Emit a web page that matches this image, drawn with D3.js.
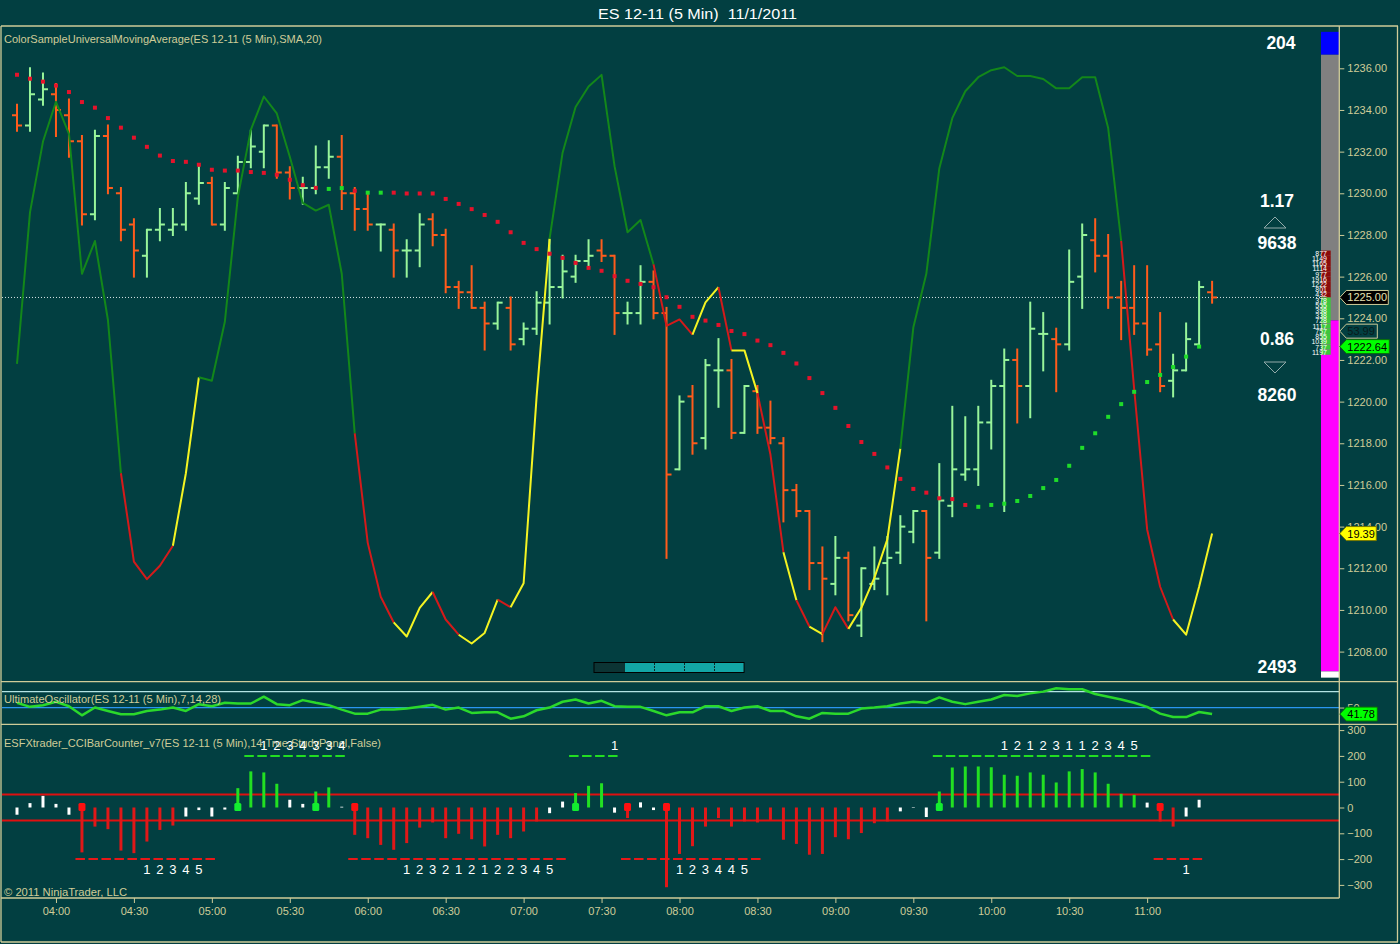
<!DOCTYPE html>
<html>
<head>
<meta charset="utf-8">
<script src="https://cdnjs.cloudflare.com/ajax/libs/d3/7.8.5/d3.min.js"></script>
<style>
  html, body { margin: 0; padding: 0; background: #023f41; }
  svg { display: block; font-family: "Liberation Sans", Arial, sans-serif; }
</style>
</head>
<body>
<div id="chart"></div>
<script>
var svgWidth = 1400;
var svgHeight = 944;

// 5 minute bars, 03:45 .. 11:25
var startTime = new Date(2011, 10, 1, 3, 45);
var endTime = new Date(2011, 10, 1, 11, 25);
var barTimes = d3.timeMinute.every(5).range(startTime, d3.timeMinute.offset(endTime, 1));
var timeTicks = d3.timeMinute.every(30).range(new Date(2011, 10, 1, 4, 0), new Date(2011, 10, 1, 11, 1));

var barOpen = [
  1233.75, 1233.25, 1234.5, 1234.75, 1233.75, 1232.5, 1229.0, 1232.75, 1230.0, 1228.5,
  1227.0, 1228.25, 1228.25, 1228.5, 1229.75, 1230.5, 1228.5, 1230.0, 1231.5, 1232.0,
  1233.25, 1231.0, 1230.25, 1230.25, 1231.25, 1231.75, 1230.0, 1229.25, 1228.5, 1228.25,
  1227.25, 1227.25, 1228.75, 1228.0, 1225.5, 1225.25, 1224.5, 1223.75, 1224.5, 1223.0,
  1223.5, 1224.75, 1225.5, 1226.0, 1226.75, 1227.25, 1227.0, 1224.25, 1224.25, 1225.75,
  1224.25, 1216.75, 1220.25, 1218.25, 1221.5, 1221.5, 1218.5, 1220.5, 1218.75, 1218.0,
  1215.75, 1214.75, 1212.25, 1211.25, 1212.5, 1209.25, 1211.25, 1212.25, 1212.75, 1213.75,
  1214.75, 1212.75, 1215.0, 1216.5, 1216.75, 1219.0, 1220.75, 1222.0, 1220.75, 1223.25,
  1223.0, 1222.75, 1226.0, 1227.75, 1227.0, 1225.0, 1224.5, 1223.75, 1222.75, 1221.0,
  1221.5, 1222.75, 1225.25
];
var barHigh = [
  1234.25, 1236.0, 1235.75, 1235.25, 1234.5, 1232.75, 1233.0, 1233.25, 1230.25, 1228.75,
  1228.25, 1229.25, 1229.25, 1230.5, 1231.25, 1230.75, 1230.5, 1231.75, 1233.0, 1233.25,
  1233.25, 1231.25, 1230.75, 1232.25, 1232.5, 1232.75, 1230.25, 1230.0, 1228.5, 1228.5,
  1227.75, 1229.0, 1229.0, 1228.25, 1225.75, 1226.5, 1224.75, 1224.75, 1225.0, 1223.75,
  1225.25, 1227.75, 1227.0, 1227.0, 1227.75, 1227.75, 1227.0, 1224.75, 1226.5, 1226.25,
  1224.5, 1220.25, 1220.75, 1222.0, 1223.0, 1222.0, 1220.75, 1220.75, 1220.0, 1218.25,
  1216.0, 1214.75, 1213.0, 1213.5, 1212.75, 1212.0, 1213.0, 1213.5, 1214.5, 1214.75,
  1214.75, 1217.0, 1219.75, 1219.25, 1219.75, 1221.0, 1222.5, 1222.5, 1224.75, 1224.25,
  1223.5, 1227.25, 1228.5, 1228.75, 1228.0, 1225.75, 1226.5, 1226.5, 1224.25, 1222.25,
  1223.75, 1225.75, 1225.75
];
var barLow = [
  1233.0, 1233.0, 1234.25, 1232.75, 1231.75, 1228.5, 1228.75, 1230.0, 1227.75, 1226.0,
  1226.0, 1227.75, 1228.0, 1228.25, 1229.5, 1228.5, 1228.25, 1230.0, 1231.25, 1231.25,
  1230.75, 1229.75, 1229.5, 1230.0, 1230.75, 1229.25, 1228.25, 1228.25, 1227.25, 1226.0,
  1226.0, 1226.5, 1227.5, 1225.25, 1224.5, 1224.5, 1222.5, 1223.5, 1222.5, 1222.75,
  1223.25, 1223.75, 1225.0, 1225.75, 1226.5, 1226.75, 1223.25, 1223.75, 1223.75, 1224.0,
  1212.5, 1216.75, 1217.5, 1217.75, 1219.75, 1218.25, 1218.5, 1218.5, 1218.0, 1214.25,
  1214.5, 1211.0, 1208.5, 1210.75, 1209.5, 1208.75, 1211.0, 1210.75, 1212.25, 1213.25,
  1209.5, 1212.5, 1214.5, 1216.25, 1216.0, 1217.75, 1214.75, 1219.0, 1219.25, 1221.5,
  1220.5, 1222.5, 1224.5, 1226.25, 1224.5, 1223.0, 1223.25, 1222.25, 1220.5, 1220.25,
  1221.5, 1222.75, 1224.75
];
var barClose = [
  1233.25, 1234.75, 1235.0, 1234.0, 1232.5, 1229.0, 1232.75, 1230.25, 1228.25, 1227.25,
  1228.25, 1228.5, 1228.5, 1230.0, 1230.5, 1228.5, 1230.25, 1231.5, 1232.25, 1233.25,
  1231.0, 1230.25, 1230.25, 1231.25, 1231.75, 1230.0, 1229.25, 1228.5, 1228.5, 1227.25,
  1227.25, 1228.5, 1228.0, 1225.5, 1225.25, 1224.5, 1223.75, 1224.75, 1222.75, 1223.5,
  1224.75, 1225.5, 1226.25, 1226.75, 1227.0, 1227.0, 1224.25, 1224.25, 1225.75, 1224.25,
  1216.5, 1220.0, 1218.0, 1221.75, 1221.5, 1218.5, 1220.75, 1218.75, 1218.25, 1215.75,
  1214.75, 1212.25, 1211.5, 1212.5, 1209.75, 1212.0, 1211.5, 1212.5, 1214.0, 1214.75,
  1212.5, 1215.25, 1216.75, 1216.75, 1219.0, 1220.75, 1222.0, 1220.75, 1223.5, 1223.25,
  1222.75, 1225.75, 1228.0, 1227.0, 1225.0, 1224.5, 1223.75, 1222.5, 1220.75, 1221.5,
  1223.0, 1225.5, 1225.0
];

// SMA(20) dots, r = falling (red), g = rising (green)
var smaValues = [
  1235.69, 1235.5, 1235.36, 1235.17, 1234.86, 1234.38, 1234.11, 1233.61, 1233.15, 1232.67,
  1232.23, 1231.81, 1231.55, 1231.51, 1231.37, 1231.13, 1231.09, 1231.09, 1231.02, 1230.98,
  1230.89, 1230.65, 1230.39, 1230.26, 1230.21, 1230.25, 1230.12, 1230.03, 1230.03, 1230.03,
  1229.99, 1229.99, 1229.99, 1229.73, 1229.49, 1229.24, 1228.96, 1228.63, 1228.13, 1227.62,
  1227.32, 1227.10, 1226.90, 1226.66, 1226.42, 1226.28, 1226.02, 1225.80, 1225.65, 1225.49,
  1225.01, 1224.55, 1224.07, 1223.89, 1223.68, 1223.39, 1223.24, 1222.93, 1222.71, 1222.34,
  1221.83, 1221.13, 1220.41, 1219.70, 1218.83, 1218.06, 1217.49, 1216.84, 1216.29, 1215.81,
  1215.63, 1215.36, 1215.32, 1215.04, 1214.95, 1215.04, 1215.10, 1215.23, 1215.47, 1215.85,
  1216.24, 1216.92, 1217.78, 1218.48, 1219.27, 1219.88, 1220.47, 1220.94, 1221.28, 1221.66,
  1222.16, 1222.64, null
];
var smaState = ("rrrrrrrrrrrrrrrrrrrrrrrr" + "gg" + "r" + "gg" +
  "rrrrrrrrrrrrrrrrrrrrrrrrrrrrrrrrrrrrrrrrrrrrr" + "gggggggggggggggggg" + "r").split("");

// overlay oscillator (0..100), state: g normal, r falling in zone, y rising in zone
var oscValues = [
  48.4, 74.3, 86.4, 93.2, 87.7, 63.8, 69.4, 55.9, 29.7, 14.6,
  11.6, 13.9, 17.3, 29.7, 46.1, 45.5, 55.6, 76.9, 88.4, 94.1,
  91.2, 83.8, 75.9, 74.6, 75.6, 63.8, 36.5, 17.8, 8.6, 4.2,
  1.8, 6.7, 9.4, 4.7, 2.1, 0.6, 2.4, 8.1, 6.8, 10.9,
  42.8, 69.8, 84.5, 92.3, 95.8, 97.8, 82.2, 70.9, 73.0, 65.4,
  54.9, 56.0, 53.4, 58.9, 61.5, 50.7, 50.7, 43.4, 32.9, 16.2,
  8.0, 3.5, 2.2, 6.8, 3.1, 6.7, 11.8, 18.4, 33.9, 54.6,
  63.8, 81.8, 90.4, 95.0, 97.4, 98.6, 99.1, 97.6, 97.6, 97.1,
  95.5, 95.5, 97.4, 97.4, 88.7, 69.4, 44.1, 20.1, 10.3, 4.7,
  2.1, 10.3, 19.39
];
var oscState = ("ggggggggg" + "rrrr" + "yy" + "gggggggggggg" + "rrr" + "yyy" + "rr" + "yyy" + "r" +
  "yyy" + "gggggggg" + "rrr" + "yy" + "r" + "yy" + "rr" + "y" + "r" + "y" + "rr" + "yyyy" +
  "ggggggggggggggggg" + "rrrr" + "yyy").split("");
var oscOther = 53.99;

// UltimateOscillator(7,14,28)
var uoValues = [
  56.0, 50.9, 53.0, 57.3, 51.7, 40.2, 50.0, 45.7, 41.5, 41.5,
  45.7, 47.4, 50.0, 45.7, 54.3, 51.7, 56.0, 55.1, 55.1, 63.7,
  54.3, 53.0, 59.4, 56.0, 53.0, 47.4, 42.3, 42.3, 47.4, 47.4,
  48.7, 50.9, 53.4, 47.4, 50.0, 43.2, 44.0, 44.0, 35.9, 38.9,
  46.6, 50.0, 57.3, 60.2, 55.1, 58.5, 51.7, 50.9, 50.9, 45.7,
  40.2, 44.0, 44.0, 51.7, 51.7, 45.7, 50.0, 51.7, 45.7, 45.7,
  38.9, 35.9, 43.2, 42.3, 42.3, 48.7, 50.0, 51.7, 55.1, 57.3,
  56.0, 62.8, 57.3, 54.3, 57.3, 60.2, 65.8, 64.5, 67.9, 70.1,
  74.3, 73.1, 73.1, 67.1, 63.7, 60.2, 56.0, 50.9, 42.3, 38.0,
  38.0, 44.4, 41.78
];

// CCI(14) bar counter
var cciValues = [
  -28, 17, 45, 14, -28, -174, -74, -84, -167, -177,
  -132, -87, -70, -35, -10, -35, -8, 75, 140, 136,
  92, 30, 14, 62, 78, 3, -106, -119, -145, -164,
  -138, -78, -58, -119, -102, -123, -151, -106, -119, -93,
  -54, -22, 23, 56, 84, 94, -20, -41, 20, -10,
  -309, -180, -150, -74, -41, -74, -54, -58, -48, -125,
  -141, -183, -180, -115, -123, -99, -61, -54, -15, 2,
  -37, 62, 155, 159, 159, 156, 127, 123, 136, 127,
  97, 140, 149, 136, 92, 53, 49, 19, -54, -74,
  -35, 30, null
];
var cciBuySignals = [17, 23, 43, 71];
var cciSellSignals = [5, 26, 47, 50, 88];
var cciLevels = [50, -50];
var cciUpRuns = [[18, 25], [43, 46], [71, 87]];
var cciUpCounts = [[19, "1234334"], [46, "1"], [76, "12123112345"]];
var cciDownRuns = [[5, 15], [26, 42], [47, 57], [88, 91]];
var cciDownCounts = [[10, "12345"], [30, "123212122345"], [51, "123445"], [90, "1"]];

// price ladder at the right edge
var ladderAskPrices = [1227.25, 1227.0, 1226.75, 1226.5, 1226.25, 1226.0, 1225.75, 1225.5, 1225.25];
var ladderAskVolume = [877, 1149, 1165, 1114, 977, 1916, 1222, 801, 432];
var ladderBidPrices = [1225.0, 1224.75, 1224.5, 1224.25, 1224.0, 1223.75, 1223.5, 1223.25, 1223.0, 1222.75, 1222.5];
var ladderBidVolume = [378, 555, 398, 338, 728, 1117, 757, 855, 1039, 737, 1197];
var ladderBreaks = [1237.75, 1236.65, 1223.9, 1207.05, 1206.75];
var ladderStats = ["204", "1.17", "9638", "0.86", "8260", "2493"];
var lastPrice = 1225.00;

var priceTicks = d3.range(1208, 1237, 2);
var cciTicks = [300, 200, 100, 0, -100, -200, -300];

// ---------------------------------------------------------------
var bg = "#023f41";
var khaki = "#cfcc98";
var upColor = "#98f59a";
var downColor = "#ff5c1c";
var axisX = 1339.3;

var x = d3.scaleTime().domain([startTime, endTime]).range([17, 1212.1]);
var y = d3.scaleLinear().domain([1208, 1236]).range([651.6, 68.3]);
var oscY = d3.scaleLinear().domain([0, 100]).range([647, 62]);
var uoY = d3.scaleLinear().domain([30, 70]).range([723.4, 691.7]);
var cciY = d3.scaleLinear().domain([-300, 300]).range([884.9, 730.1]);
var xi = function(i) { return x(barTimes[i]); };

var svg = d3.select("#chart").append("svg")
  .attr("width", svgWidth)
  .attr("height", svgHeight);

svg.append("rect").attr("width", svgWidth).attr("height", svgHeight).attr("fill", bg);

var defs = svg.append("defs");
function addClip(id, x0, y0, w, h) {
  defs.append("clipPath").attr("id", id).append("rect")
    .attr("x", x0).attr("y", y0).attr("width", w).attr("height", h);
}
addClip("clipPrice", 2, 27, axisX - 2, 654);
addClip("clipUo", 2, 682, axisX - 2, 42);
addClip("clipCci", 2, 725, axisX - 2, 172);

// title
svg.append("text")
  .attr("x", 598).attr("y", 18.5)
  .attr("fill", "#ffffff")
  .attr("font-size", "15px")
  .attr("textLength", 199)
  .attr("lengthAdjust", "spacingAndGlyphs")
  .style("white-space", "pre")
  .text("ES 12-11 (5 Min)  11/1/2011");

// ================= price panel =================
var priceG = svg.append("g").attr("clip-path", "url(#clipPrice)");

// last price dotted line
priceG.append("line")
  .attr("x1", 2).attr("x2", axisX)
  .attr("y1", y(lastPrice)).attr("y2", y(lastPrice))
  .attr("stroke", "#d8e4e4")
  .attr("stroke-width", 1)
  .attr("stroke-dasharray", "1,2");

// OHLC bars
var bars = barTimes.map(function(t, i) {
  return { i: i, o: barOpen[i], h: barHigh[i], l: barLow[i], c: barClose[i] };
});

var barG = priceG.selectAll("g.bar")
  .data(bars)
  .enter()
  .append("g")
  .attr("class", "bar")
  .attr("stroke", d => d.c >= d.o ? upColor : downColor)
  .attr("stroke-width", 2);

barG.append("line")
  .attr("x1", d => xi(d.i)).attr("x2", d => xi(d.i))
  .attr("y1", d => y(d.h) - 1).attr("y2", d => y(d.l) + 1);
barG.append("line")
  .attr("x1", d => xi(d.i) - 5).attr("x2", d => xi(d.i))
  .attr("y1", d => y(d.o)).attr("y2", d => y(d.o));
barG.append("line")
  .attr("x1", d => xi(d.i)).attr("x2", d => xi(d.i) + 5)
  .attr("y1", d => y(d.c)).attr("y2", d => y(d.c));

// oscillator overlay, grouped into colour runs
var oscColors = { g: "#13871a", r: "#d41a1a", y: "#f4f422" };
var runs = [];
for (var i = 1; i < oscValues.length; i++) {
  var s = oscState[i];
  if (!runs.length || runs[runs.length - 1].s !== s) runs.push({ s: s, pts: [i - 1] });
  runs[runs.length - 1].pts.push(i);
}
var oscLine = d3.line().x(i => xi(i)).y(i => oscY(oscValues[i]));
priceG.selectAll("path.osc")
  .data(runs)
  .enter()
  .append("path")
  .attr("class", "osc")
  .attr("d", d => oscLine(d.pts))
  .attr("fill", "none")
  .attr("stroke", d => oscColors[d.s])
  .attr("stroke-width", 2)
  .attr("stroke-linejoin", "round");

// SMA dots
var smaDots = smaValues.map(function(v, i) { return { i: i, v: v, s: smaState[i] }; })
  .filter(d => d.v !== null);
priceG.selectAll("rect.sma")
  .data(smaDots)
  .enter()
  .append("rect")
  .attr("class", "sma")
  .attr("x", d => xi(d.i) - 2)
  .attr("y", d => y(d.v) - 2)
  .attr("width", 4)
  .attr("height", 4)
  .attr("fill", d => d.s === "g" ? "#1fdc2a" : "#e5132b");

// scroll / pan strip
var strip = svg.append("g");
strip.append("rect").attr("x", 594).attr("y", 662.5).attr("width", 150).attr("height", 10)
  .attr("fill", "#0c3434").attr("stroke", "#000").attr("stroke-width", 1);
strip.append("rect").attr("x", 625).attr("y", 663).attr("width", 118.5).attr("height", 9)
  .attr("fill", "#13a6a6");
[654.5, 684.5, 714.5].forEach(function(px) {
  strip.append("line").attr("x1", px).attr("x2", px).attr("y1", 663).attr("y2", 672)
    .attr("stroke", "#0a2a2a").attr("stroke-dasharray", "2,1");
});

// price ladder column
var ladder = svg.append("g");
var lx0 = 1321, lmid = 1330.7, lx1 = axisX;
ladder.append("rect").attr("x", lx0).attr("width", lx1 - lx0)
  .attr("y", y(ladderBreaks[0])).attr("height", y(ladderBreaks[1]) - y(ladderBreaks[0])).attr("fill", "#0000ff");
ladder.append("rect").attr("x", lx0).attr("width", lx1 - lx0)
  .attr("y", y(ladderBreaks[1])).attr("height", y(ladderBreaks[2]) - y(ladderBreaks[1])).attr("fill", "#808080");
ladder.append("rect").attr("x", lx0).attr("width", lx1 - lx0)
  .attr("y", y(ladderBreaks[2])).attr("height", y(ladderBreaks[3]) - y(ladderBreaks[2])).attr("fill", "#ff00ff");
ladder.append("rect").attr("x", lx0).attr("width", lx1 - lx0)
  .attr("y", y(ladderBreaks[3])).attr("height", y(ladderBreaks[4]) - y(ladderBreaks[3])).attr("fill", "#ffffff");

function ladderSide(prices, vols, color) {
  ladder.selectAll(null).data(prices).enter().append("rect")
    .attr("x", lx0).attr("width", lmid - lx0)
    .attr("y", p => y(p)).attr("height", p => y(p - 0.25) - y(p))
    .attr("fill", color);
  ladder.selectAll(null).data(prices).enter().append("text")
    .attr("x", 1327).attr("y", p => y(p - 0.125) + 2.6)
    .attr("text-anchor", "end")
    .attr("font-size", "7px")
    .attr("fill", "#ffffff")
    .text((p, k) => vols[k]);
}
ladderSide(ladderAskPrices, ladderAskVolume, "#8b0a0a");
ladderSide(ladderBidPrices, ladderBidVolume, "#3cc83c");

// stats at the ladder
var statY = [42.5, 201, 243, 339, 395, 667];
var statX = [1281, 1277, 1277, 1277, 1277, 1277];
svg.selectAll("text.stat")
  .data(ladderStats)
  .enter()
  .append("text")
  .attr("class", "stat")
  .attr("x", (d, k) => statX[k])
  .attr("y", (d, k) => statY[k] + 6.2)
  .attr("text-anchor", "middle")
  .attr("font-size", "17.5px")
  .attr("font-weight", "bold")
  .attr("fill", "#ffffff")
  .text(d => d);
svg.append("path").attr("d", "M1264,228L1275,217L1286,228Z")
  .attr("fill", "none").attr("stroke", "#93aaaa");
svg.append("path").attr("d", "M1264,362L1286,362L1275,373Z")
  .attr("fill", "none").attr("stroke", "#93aaaa");

// indicator label
function panelLabel(txt, px, py, len) {
  svg.append("text")
    .attr("x", px).attr("y", py)
    .attr("font-size", "11px")
    .attr("fill", khaki)
    .attr("textLength", len)
    .attr("lengthAdjust", "spacingAndGlyphs")
    .text(txt);
}
panelLabel("ColorSampleUniversalMovingAverage(ES 12-11 (5 Min),SMA,20)", 4, 43, 318);

// ================= UO panel =================
var uoG = svg.append("g").attr("clip-path", "url(#clipUo)");
uoG.append("line").attr("x1", 2).attr("x2", axisX).attr("y1", uoY(70)).attr("y2", uoY(70))
  .attr("stroke", "#b4e4e4").attr("stroke-width", 1.2);
uoG.append("line").attr("x1", 2).attr("x2", axisX).attr("y1", uoY(50)).attr("y2", uoY(50))
  .attr("stroke", "#2a96f0").attr("stroke-width", 1.2);
uoG.append("path")
  .datum(uoValues)
  .attr("d", d3.line().x((v, i) => xi(i)).y(v => uoY(v)))
  .attr("fill", "none")
  .attr("stroke", "#2bd82b")
  .attr("stroke-width", 2.5)
  .attr("stroke-linejoin", "round");
panelLabel("UltimateOscillator(ES 12-11 (5 Min),7,14,28)", 4, 703, 217);

// ================= CCI panel =================
var cciG = svg.append("g").attr("clip-path", "url(#clipCci)");
cciLevels.forEach(function(lv) {
  cciG.append("line").attr("x1", 2).attr("x2", axisX).attr("y1", cciY(lv)).attr("y2", cciY(lv))
    .attr("stroke", "#e01010").attr("stroke-width", 2);
});

var cciBars = cciValues.map(function(v, i) { return { i: i, v: v }; }).filter(d => d.v !== null);
cciG.selectAll("line.cci")
  .data(cciBars)
  .enter()
  .append("line")
  .attr("class", "cci")
  .attr("x1", d => xi(d.i)).attr("x2", d => xi(d.i))
  .attr("y1", cciY(0)).attr("y2", d => cciY(d.v))
  .attr("stroke", d => d.v > 45 ? "#22e022" : (d.v < -38 ? "#e01818" : "#ffffff"))
  .attr("stroke-width", 3);

function signalDots(list, color) {
  cciG.selectAll(null).data(list).enter().append("rect")
    .attr("x", i => xi(i) - 3.5).attr("y", cciY(0) - 4.5)
    .attr("width", 7).attr("height", 8).attr("rx", 1.5)
    .attr("fill", color);
}
signalDots(cciBuySignals, "#12ee30");
signalDots(cciSellSignals, "#ff1010");

function countRuns(runList, level, color) {
  cciG.selectAll(null).data(runList).enter().append("line")
    .attr("x1", r => xi(r[0]) - 6.5).attr("x2", r => xi(r[1]) + 6.5)
    .attr("y1", cciY(level)).attr("y2", cciY(level))
    .attr("stroke", color).attr("stroke-width", 2)
    .attr("stroke-dasharray", "9.5,3.5");
}
countRuns(cciUpRuns, 200, "#22dd22");
countRuns(cciDownRuns, -200, "#e81818");

panelLabel("ESFXtrader_CCIBarCounter_v7(ES 12-11 (5 Min),14,True,StudyPanel,False)", 4, 746.5, 377);

function countLabels(list, py) {
  list.forEach(function(c) {
    c[1].split("").forEach(function(ch, k) {
      svg.append("text")
        .attr("x", xi(c[0] + k)).attr("y", py)
        .attr("text-anchor", "middle")
        .attr("font-size", "13px")
        .attr("fill", "#ffffff")
        .text(ch);
    });
  });
}
countLabels(cciUpCounts, cciY(200) - 6);
countLabels(cciDownCounts, cciY(-200) + 14.5);

panelLabel("\u00a9 2011 NinjaTrader, LLC", 4, 896, 123);

// ================= frame =================
var frame = svg.append("g").attr("stroke", khaki).attr("stroke-width", 1.3).attr("fill", "none");
frame.append("line").attr("x1", 1).attr("x2", 1398).attr("y1", 26).attr("y2", 26);
frame.append("line").attr("x1", 1).attr("x2", 1398).attr("y1", 681.7).attr("y2", 681.7);
frame.append("line").attr("x1", 1).attr("x2", 1398).attr("y1", 724.3).attr("y2", 724.3);
frame.append("line").attr("x1", 1).attr("x2", axisX).attr("y1", 898).attr("y2", 898);
frame.append("line").attr("x1", 1).attr("x2", 1398).attr("y1", 942).attr("y2", 942);
frame.append("line").attr("x1", 1).attr("x2", 1).attr("y1", 26).attr("y2", 942);
frame.append("line").attr("x1", 1397.5).attr("x2", 1397.5).attr("y1", 26).attr("y2", 942);
frame.append("line").attr("x1", axisX).attr("x2", axisX).attr("y1", 26).attr("y2", 898);

// ================= axes =================
function styleAxis(g) {
  g.select(".domain").remove();
  g.selectAll(".tick line").attr("stroke", khaki);
  g.selectAll(".tick text").attr("fill", khaki).attr("font-size", "11px")
    .attr("font-family", "Liberation Sans, Arial, sans-serif");
}

svg.append("g")
  .attr("transform", `translate(${axisX}, 0)`)
  .call(d3.axisRight(y).tickValues(priceTicks).tickFormat(d3.format(".2f")).tickSize(5).tickPadding(3))
  .call(styleAxis);

svg.append("g")
  .attr("transform", `translate(${axisX}, 0)`)
  .call(d3.axisRight(uoY).tickValues([50]).tickSize(5).tickPadding(3))
  .call(styleAxis);

svg.append("g")
  .attr("transform", `translate(${axisX}, 0)`)
  .call(d3.axisRight(cciY).tickValues(cciTicks).tickSize(5).tickPadding(3))
  .call(styleAxis);

svg.append("g")
  .attr("transform", "translate(0, 898)")
  .call(d3.axisBottom(x).tickValues(timeTicks).tickFormat(d3.timeFormat("%H:%M")).tickSize(5).tickPadding(4))
  .call(styleAxis);

// ================= value markers =================
function marker(py, w, fill, stroke, color, label) {
  var g = svg.append("g");
  g.append("path")
    .attr("d", `M${axisX + 0.5},${py}L${axisX + 7},${py - 7}L${axisX + w},${py - 7}L${axisX + w},${py + 7}L${axisX + 7},${py + 7}Z`)
    .attr("fill", fill).attr("stroke", stroke).attr("stroke-width", 1);
  g.append("text")
    .attr("x", axisX + 8).attr("y", py + 4)
    .attr("font-size", "11px")
    .attr("fill", color)
    .text(label);
}
marker(y(lastPrice), 49, "#000000", khaki, "#e6e2b4", d3.format(".2f")(lastPrice));
marker(oscY(oscOther), 38, bg, khaki, "#0b1a1a", d3.format(".2f")(oscOther));
marker(y(smaValues[91]), 50, "#00ff00", "#0a6a0a", "#000000", d3.format(".2f")(smaValues[91]));
marker(oscY(oscValues[92]), 37, "#ffff00", "#7a7a00", "#000000", d3.format(".2f")(oscValues[92]));
marker(uoY(uoValues[92]), 38, "#00ff00", "#0a6a0a", "#000000", d3.format(".2f")(uoValues[92]));
</script>
</body>
</html>
